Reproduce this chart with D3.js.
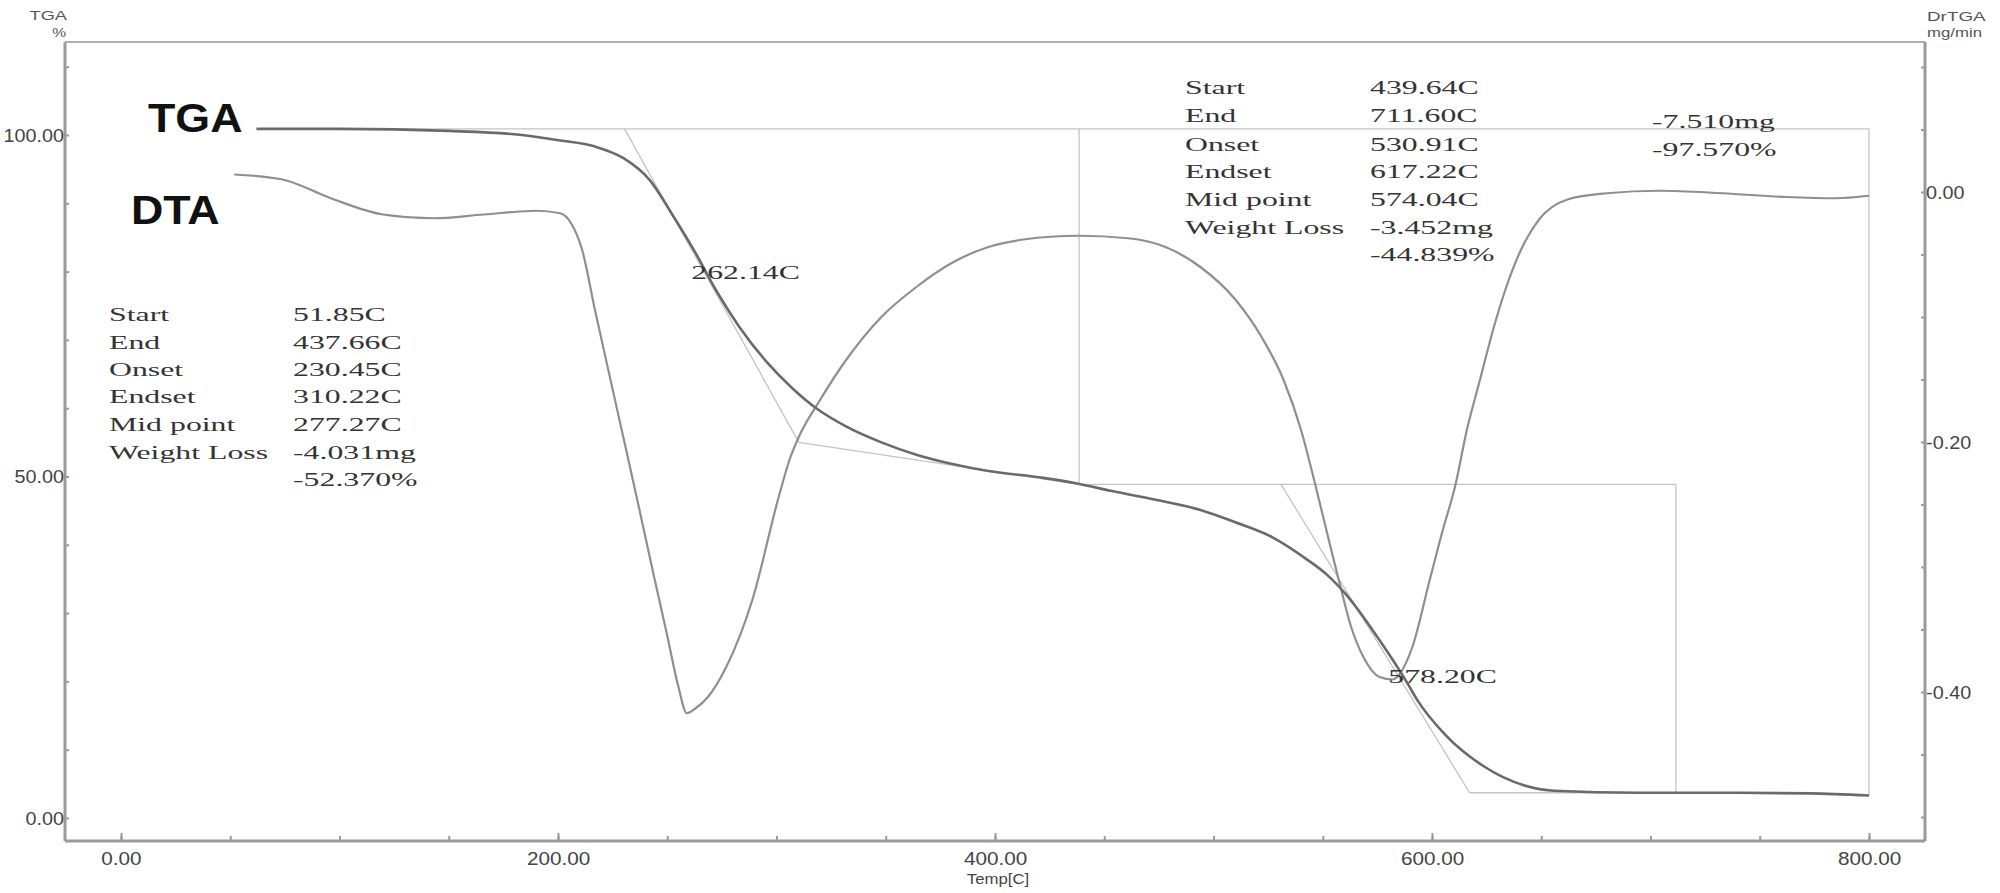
<!DOCTYPE html>
<html>
<head>
<meta charset="utf-8">
<script src="https://cdn.jsdelivr.net/npm/d3@7"></script>
<style>
  html, body { margin: 0; padding: 0; background: #fff; }
  svg { display: block; }
</style>
</head>
<body>
<svg id="chart" width="2000" height="893"></svg>
<script>
// ---------------- DATA ----------------
// TGA curve (temperature °C, mass %)
const tgaTemp = [62, 100, 150, 180, 201, 217, 230, 242, 253, 263, 273, 283, 296, 307, 319, 332, 348, 364, 381, 397, 422, 438, 453, 478, 494, 510, 527, 543, 552, 561, 575, 589, 593, 606, 624, 642, 656, 694, 740, 773, 800];
const tgaMass = [100.9, 100.9, 100.6, 100.1, 99.2, 98.3, 96.6, 93.4, 88.0, 82.7, 76.9, 71.9, 66.6, 63.0, 59.8, 57.3, 55.0, 53.2, 51.8, 50.8, 49.8, 48.95, 47.9, 46.3, 45.1, 43.3, 41.1, 37.8, 35.6, 32.6, 26.5, 19.6, 17.4, 12.2, 7.5, 4.8, 4.0, 3.7, 3.7, 3.6, 3.3];

// DTA / DrTGA curve (temperature °C, mg/min)
const dtaTemp = [51.85, 74, 96, 120, 143, 166, 190, 201, 206, 211, 217, 224, 230, 237, 244, 250, 255, 259, 263, 268.6, 277, 289, 301, 306, 311, 319, 332, 348, 364, 381, 397, 413, 438, 461, 478, 494, 510, 522, 532, 540, 546, 553, 558, 563, 568.6, 576, 582, 585, 591, 599, 605, 610.5, 616, 622, 628, 634, 640, 649, 662, 680, 704, 733, 762, 785, 800];
const dtaRate = [0.014, 0.010, -0.005, -0.018, -0.021, -0.018, -0.015, -0.017, -0.025, -0.046, -0.095, -0.150, -0.197, -0.252, -0.308, -0.355, -0.395, -0.417, -0.413, -0.404, -0.380, -0.326, -0.244, -0.214, -0.193, -0.169, -0.134, -0.100, -0.076, -0.056, -0.044, -0.038, -0.035, -0.037, -0.044, -0.060, -0.086, -0.116, -0.150, -0.190, -0.230, -0.280, -0.315, -0.348, -0.372, -0.388, -0.390, -0.386, -0.364, -0.310, -0.270, -0.236, -0.190, -0.150, -0.110, -0.076, -0.049, -0.022, -0.006, -0.001, 0.001, -0.001, -0.004, -0.005, -0.003];

// Axis ticks
const xMajorTicks = [0, 200, 400, 600, 800];
const xMinorTicks = [0, 50, 100, 150, 200, 250, 300, 350, 400, 450, 500, 550, 600, 650, 700, 750, 800];
const leftMajorTicks = [0, 50, 100];
const leftMinorTicks = [0, 10, 20, 30, 40, 50, 60, 70, 80, 90, 100, 110];
const rightMajorTicks = [0, -0.2, -0.4];
const rightMinorTicks = [0.1, 0.05, 0, -0.05, -0.1, -0.15, -0.2, -0.25, -0.3, -0.35, -0.4, -0.45, -0.5];

// Analysis construction lines: [T1, mass1, T2, mass2] (left-axis units)
const constructionLines = [
  [62, 100.9, 800, 100.9],
  [800, 100.9, 800, 3.3],
  [438.5, 100.9, 438.5, 48.85],
  [230.45, 100.9, 310.22, 55.0],
  [310.22, 55.0, 437.66, 48.9],
  [438.5, 48.85, 711.6, 48.85],
  [530.91, 48.85, 617.22, 3.7],
  [617.22, 3.7, 711.6, 3.7],
  [711.6, 48.85, 711.6, 3.7]
];

// Step result tables
const step1Labels = ["Start", "End", "Onset", "Endset", "Mid point", "Weight Loss", ""];
const step1Values = ["51.85C", "437.66C", "230.45C", "310.22C", "277.27C", "-4.031mg", "-52.370%"];
const step2Labels = ["Start", "End", "Onset", "Endset", "Mid point", "Weight Loss", ""];
const step2Values = ["439.64C", "711.60C", "530.91C", "617.22C", "574.04C", "-3.452mg", "-44.839%"];
const totalLoss = ["-7.510mg", "-97.570%"];
const peakLabels = [{t: 261, text: "262.14C"}, {t: 580, text: "578.20C"}];

// ---------------- LAYOUT ----------------
const svg = d3.select("#chart");
const frame = {left: 65, right: 1925, top: 42, bottom: 841};

const x = d3.scaleLinear().domain([0, 800]).range([121, 1869]);
const yL = d3.scaleLinear().domain([0, 100]).range([818, 135]);
const yR = d3.scaleLinear().domain([0, -0.2]).range([192, 442]);

const axisColor = "#9a9a9a";
const textColor = "#333";

function stext(g, px, py, str, opt) {
  const o = Object.assign({size: 18, sx: 1, anchor: "start", family: "'Liberation Serif', serif", weight: "normal", fill: textColor}, opt || {});
  return g.append("text")
    .attr("transform", `translate(${px},${py}) scale(${o.sx},1)`)
    .attr("text-anchor", o.anchor)
    .attr("dominant-baseline", "central")
    .attr("font-family", o.family)
    .attr("font-size", o.size)
    .attr("font-weight", o.weight)
    .attr("fill", o.fill)
    .text(str);
}

// ---------------- FRAME ----------------
const fr = svg.append("g");
fr.append("line").attr("x1", frame.left).attr("x2", frame.right).attr("y1", frame.top).attr("y2", frame.top)
  .attr("stroke", "#b0b0b0").attr("stroke-width", 2);
fr.append("line").attr("x1", frame.left).attr("x2", frame.left).attr("y1", frame.top).attr("y2", frame.bottom)
  .attr("stroke", axisColor).attr("stroke-width", 3);
fr.append("line").attr("x1", frame.right).attr("x2", frame.right).attr("y1", frame.top).attr("y2", frame.bottom)
  .attr("stroke", axisColor).attr("stroke-width", 3);
fr.append("line").attr("x1", frame.left).attr("x2", frame.right).attr("y1", frame.bottom).attr("y2", frame.bottom)
  .attr("stroke", axisColor).attr("stroke-width", 3);

// ---------------- AXES ----------------
const fmt2 = v => d3.format(".2f")(v).replace("\u2212", "-");

// X axis (ticks pointing up)
const gxMinor = svg.append("g").attr("transform", `translate(0,${frame.bottom})`)
  .call(d3.axisBottom(x).tickValues(xMinorTicks).tickSize(-5).tickFormat(""));
const gxMajor = svg.append("g").attr("transform", `translate(0,${frame.bottom})`)
  .call(d3.axisBottom(x).tickValues(xMajorTicks).tickSize(-8).tickPadding(10).tickFormat(fmt2));
[gxMinor, gxMajor].forEach(g => {
  g.select(".domain").remove();
  g.selectAll(".tick line").attr("stroke", axisColor).attr("stroke-width", 2);
});
gxMajor.selectAll(".tick text")
  .attr("font-family", "'Liberation Sans', Arial, sans-serif").attr("font-size", 18)
  .attr("fill", "#444").attr("y", 18).attr("dy", 0).attr("dominant-baseline", "central")
  .attr("transform", "scale(1.15,1)");

// Left axis (ticks pointing right)
const gyLMinor = svg.append("g").attr("transform", `translate(${frame.left},0)`)
  .call(d3.axisLeft(yL).tickValues(leftMinorTicks).tickSize(-4).tickFormat(""));
const gyLMajor = svg.append("g").attr("transform", `translate(${frame.left},0)`)
  .call(d3.axisLeft(yL).tickValues(leftMajorTicks).tickSize(0).tickPadding(1).tickFormat(fmt2));
[gyLMinor, gyLMajor].forEach(g => {
  g.select(".domain").remove();
  g.selectAll(".tick line").attr("stroke", axisColor).attr("stroke-width", 2);
});
gyLMajor.selectAll(".tick text")
  .attr("font-family", "'Liberation Sans', Arial, sans-serif").attr("font-size", 18)
  .attr("fill", "#444").attr("dy", 0).attr("dominant-baseline", "central")
  .attr("transform", "scale(1.1,1)");

// Right axis (ticks pointing left)
const gyRMinor = svg.append("g").attr("transform", `translate(${frame.right},0)`)
  .call(d3.axisRight(yR).tickValues(rightMinorTicks).tickSize(-4).tickFormat(""));
const gyRMajor = svg.append("g").attr("transform", `translate(${frame.right},0)`)
  .call(d3.axisRight(yR).tickValues(rightMajorTicks).tickSize(0).tickPadding(1).tickFormat(fmt2));
[gyRMinor, gyRMajor].forEach(g => {
  g.select(".domain").remove();
  g.selectAll(".tick line").attr("stroke", axisColor).attr("stroke-width", 2);
});
gyRMajor.selectAll(".tick text")
  .attr("font-family", "'Liberation Sans', Arial, sans-serif").attr("font-size", 18)
  .attr("fill", "#444").attr("dy", 0).attr("dominant-baseline", "central")
  .attr("transform", "scale(1.1,1)");

// Axis titles
const titles = svg.append("g");
stext(titles, 67, 15, "TGA", {size: 13, sx: 1.4, anchor: "end", family: "'Liberation Sans', Arial, sans-serif", fill: "#555"});
stext(titles, 66, 32, "%", {size: 13, sx: 1.2, anchor: "end", family: "'Liberation Sans', Arial, sans-serif", fill: "#555"});
stext(titles, 1927, 16, "DrTGA", {size: 13, sx: 1.45, family: "'Liberation Sans', Arial, sans-serif", fill: "#555"});
stext(titles, 1927, 33, "mg/min", {size: 12, sx: 1.4, family: "'Liberation Sans', Arial, sans-serif", fill: "#555"});
stext(titles, 998, 879, "Temp[C]", {size: 14, sx: 1.2, anchor: "middle", family: "'Liberation Sans', Arial, sans-serif", fill: "#444"});

// ---------------- CONSTRUCTION LINES ----------------
svg.append("g").selectAll("line").data(constructionLines).join("line")
  .attr("x1", d => x(d[0])).attr("y1", d => yL(d[1]))
  .attr("x2", d => x(d[2])).attr("y2", d => yL(d[3]))
  .attr("stroke", "#c4c4c4").attr("stroke-width", 1.3);

// ---------------- CURVES ----------------
const dtaPts = dtaTemp.map((t, i) => [t, dtaRate[i]]);
const tgaPts = tgaTemp.map((t, i) => [t, tgaMass[i]]);

svg.append("path").datum(dtaPts)
  .attr("fill", "none").attr("stroke", "#8f8f8f").attr("stroke-width", 2.2)
  .attr("d", d3.line().x(d => x(d[0])).y(d => yR(d[1])).curve(d3.curveMonotoneX));

svg.append("path").datum(tgaPts)
  .attr("fill", "none").attr("stroke", "#6a6a6a").attr("stroke-width", 2.6)
  .attr("d", d3.line().x(d => x(d[0])).y(d => yL(d[1])).curve(d3.curveMonotoneX));

// ---------------- TEXT ANNOTATIONS ----------------
const ann = svg.append("g");
stext(ann, 148, 118, "TGA", {size: 40, sx: 1.12, family: "'Liberation Sans', Arial, sans-serif", weight: "bold", fill: "#111"});
stext(ann, 131, 210, "DTA", {size: 40, sx: 1.12, family: "'Liberation Sans', Arial, sans-serif", weight: "bold", fill: "#111"});

const rowsL = [315, 343, 370, 397, 425, 453, 480];
const rowsR = [88, 116, 145, 172, 200, 228, 255];
step1Labels.forEach((s, i) => { if (s) stext(ann, 109, rowsL[i], s, {size: 18.5, sx: 1.72}); });
step1Values.forEach((s, i) => stext(ann, 293, rowsL[i], s, {size: 18.5, sx: 1.72}));
step2Labels.forEach((s, i) => { if (s) stext(ann, 1185, rowsR[i], s, {size: 18.5, sx: 1.72}); });
step2Values.forEach((s, i) => stext(ann, 1370, rowsR[i], s, {size: 18.5, sx: 1.72}));

stext(ann, 1652, 122, totalLoss[0], {size: 18.5, sx: 1.72});
stext(ann, 1652, 150, totalLoss[1], {size: 18.5, sx: 1.72});

stext(ann, x(peakLabels[0].t), 273, peakLabels[0].text, {size: 18.5, sx: 1.72});
stext(ann, x(peakLabels[1].t), 677, peakLabels[1].text, {size: 18.5, sx: 1.72});
</script>
</body>
</html>
